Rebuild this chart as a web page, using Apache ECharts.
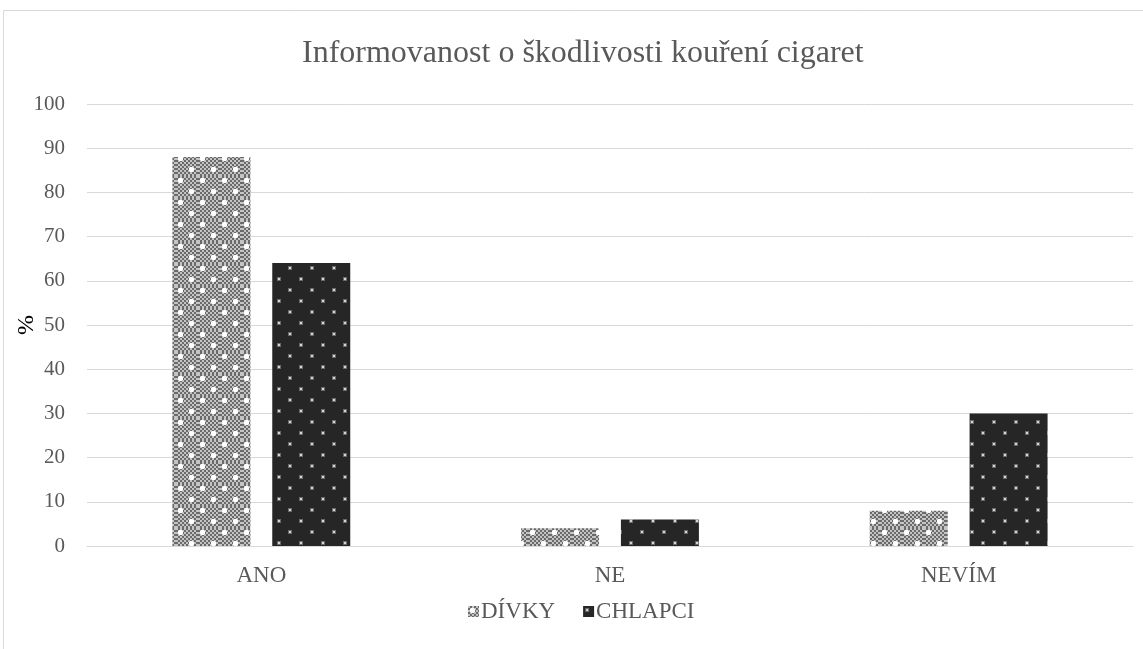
<!DOCTYPE html>
<html>
<head>
<meta charset="utf-8">
<script src="https://cdn.jsdelivr.net/npm/echarts@6/dist/echarts.min.js"></script>
<style>
  html, body { margin: 0; padding: 0; background: #fff; }
  #chart { width: 1143px; height: 649px; }
</style>
</head>
<body>
<div id="chart"></div>
<script>
// Data
const categories = ['ANO', 'NE', 'NEVÍM'];
const divky = [88, 4, 8];
const chlapci = [64, 6, 30];
const yTicks = { min: 0, max: 100, interval: 10 };

// Tile patterns for the bar fills
function checkerPattern() {
  const c = document.createElement('canvas');
  c.width = 22; c.height = 22;
  const ctx = c.getContext('2d');
  for (let y = 0; y < 22; y++) {
    for (let x = 0; x < 22; x++) {
      ctx.fillStyle = ((x >> 1) + (y >> 1)) % 2 ? '#6a6a6a' : '#c4c4c4';
      ctx.fillRect(x, y, 1, 1);
    }
  }
  ctx.fillStyle = '#ffffff';
  [[4, 4], [15, 15]].forEach(([px, py]) => {
    ctx.fillRect(px - 1, py - 2, 3, 5);
    ctx.fillRect(px - 2, py - 1, 5, 3);
  });
  return c;
}
function dotPattern() {
  const c = document.createElement('canvas');
  c.width = 22; c.height = 22;
  const ctx = c.getContext('2d');
  ctx.fillStyle = '#262626';
  ctx.fillRect(0, 0, 22, 22);
  [[4, 4], [15, 15]].forEach(([px, py]) => {
    ctx.fillStyle = '#6a6a6a';
    ctx.fillRect(px - 2, py - 2, 4, 4);
    ctx.fillStyle = '#d6d6d6';
    ctx.fillRect(px - 1, py - 1, 2, 2);
  });
  return c;
}

const chart = echarts.init(document.getElementById('chart'), null, { renderer: 'canvas' });
const font = '"Liberation Serif", "Times New Roman", serif';

chart.setOption({
  backgroundColor: '#ffffff',
  animation: false,
  textStyle: { fontFamily: font },
  graphic: [
    { type: 'line', shape: { x1: 3.5, y1: 10.5, x2: 1143, y2: 10.5 }, style: { stroke: '#d9d9d9', lineWidth: 1 } },
    { type: 'line', shape: { x1: 3.5, y1: 10.5, x2: 3.5, y2: 649 }, style: { stroke: '#d9d9d9', lineWidth: 1 } }
  ],
  title: {
    text: 'Informovanost o škodlivosti kouření cigaret',
    left: 302,
    top: 38,
    padding: 0,
    textStyle: { fontFamily: font, fontSize: 32, fontWeight: 'normal', color: '#595959' }
  },
  legend: {
    left: 468,
    top: 600,
    padding: 0,
    itemWidth: 11,
    itemHeight: 11,
    itemGap: 28,
    icon: 'rect',
    textStyle: { fontFamily: font, fontSize: 23, color: '#595959', padding: [0, 0, 0, -3] },
    data: ['DÍVKY', 'CHLAPCI']
  },
  grid: { left: 87, right: 10, top: 104, bottom: 103, containLabel: false, outerBoundsMode: 'none' },
  xAxis: {
    type: 'category',
    data: categories,
    axisLine: { lineStyle: { color: '#d9d9d9' } },
    axisTick: { show: false },
    axisLabel: { fontFamily: font, fontSize: 23, color: '#595959', margin: 18 }
  },
  yAxis: {
    type: 'value',
    min: yTicks.min,
    max: yTicks.max,
    interval: yTicks.interval,
    name: '%',
    nameLocation: 'middle',
    nameRotate: 90,
    nameGap: 48,
    nameMoveOverlap: false,
    nameTextStyle: { fontFamily: font, fontSize: 24, color: '#000000' },
    axisLine: { show: false },
    axisTick: { show: false },
    splitLine: { lineStyle: { color: '#d9d9d9', width: 1 } },
    axisLabel: { fontFamily: font, fontSize: 21, color: '#595959', margin: 22 }
  },
  series: [
    {
      name: 'DÍVKY',
      type: 'bar',
      data: divky,
      barGap: '28%',
      barCategoryGap: '49%',
      itemStyle: { color: { image: checkerPattern(), repeat: 'repeat' } }
    },
    {
      name: 'CHLAPCI',
      type: 'bar',
      data: chlapci,
      barGap: '28%',
      barCategoryGap: '49%',
      itemStyle: { color: { image: dotPattern(), repeat: 'repeat' } }
    }
  ]
});
</script>
</body>
</html>
